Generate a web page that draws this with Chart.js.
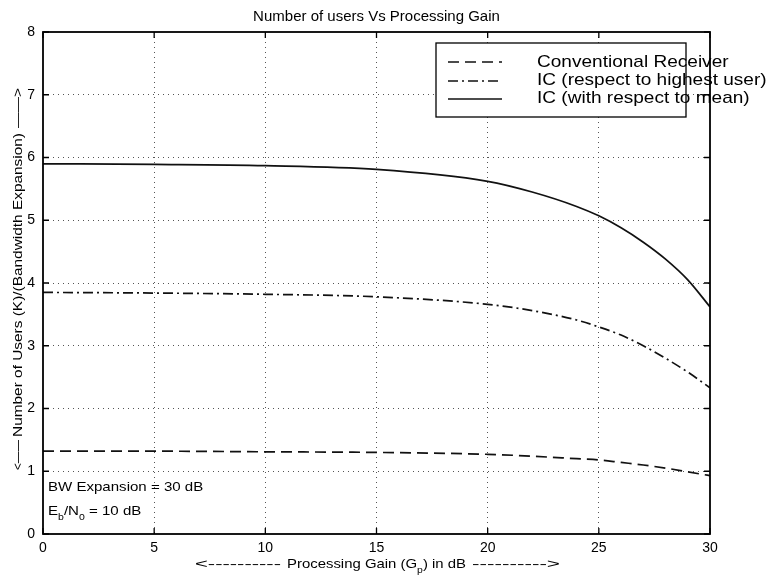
<!DOCTYPE html>
<html>
<head>
<meta charset="utf-8">
<script src="https://cdn.jsdelivr.net/npm/chart.js@4/dist/chart.umd.min.js"></script>
<style>
  html, body { margin: 0; padding: 0; background: #fff; }
  #wrap { width: 773px; height: 578px; }
</style>
</head>
<body>
<div id="wrap"><canvas id="chart"></canvas></div>
<script>
// processing gain (dB)
var gainDb = [0, 5, 10, 15, 20, 22, 24, 25, 26, 27, 28, 29, 30];

var conventional = [1.32, 1.32, 1.31, 1.30, 1.27, 1.24, 1.20, 1.18, 1.14, 1.10, 1.05, 0.99, 0.93];
var icHighest    = [3.85, 3.84, 3.82, 3.78, 3.66, 3.56, 3.41, 3.30, 3.17, 3.00, 2.80, 2.58, 2.33];
var icMean       = [5.90, 5.89, 5.87, 5.81, 5.62, 5.45, 5.22, 5.07, 4.88, 4.65, 4.38, 4.05, 3.62];

var seriesNames = ["Conventional Receiver", "IC (respect to highest user)", "IC (with respect to mean)"];
var xTicks = [0, 5, 10, 15, 20, 25, 30];
var yTicks = [0, 1, 2, 3, 4, 5, 6, 7, 8];

var FONT = "'Liberation Sans', Arial, sans-serif";

function pts(ys) {
    return gainDb.map(function (g, i) { return {x: g, y: ys[i]}; });
}

// draw text squeezed/stretched horizontally into a given width
function fitText(ctx, text, x, y, size, width) {
    ctx.font = size + "px " + FONT;
    var w = ctx.measureText(text).width;
    ctx.save();
    ctx.translate(x, y);
    ctx.scale(width / w, 1);
    ctx.fillText(text, 0, 0);
    ctx.restore();
}

// text run with subscripts: parts = [text, isSub]
function runText(ctx, parts, x, y, size, sx) {
    ctx.save();
    ctx.translate(x, y);
    ctx.scale(sx, 1);
    var cx = 0;
    parts.forEach(function (p) {
        var s = p[1] ? size * 0.7 : size;
        ctx.font = s + "px " + FONT;
        ctx.fillText(p[0], cx, p[1] ? size * 0.36 : 0);
        cx += ctx.measureText(p[0]).width;
    });
    ctx.restore();
}

function runWidth(ctx, parts, size) {
    var w = 0;
    parts.forEach(function (p) {
        ctx.font = (p[1] ? size * 0.7 : size) + "px " + FONT;
        w += ctx.measureText(p[0]).width;
    });
    return w;
}

const extras = {
    id: "extras",
    afterDraw(chart) {
        const ctx = chart.ctx;
        const a = chart.chartArea;
        const xs = chart.scales.x, ys = chart.scales.y;
        ctx.save();
        ctx.fillStyle = "#000";
        ctx.textBaseline = "alphabetic";
        ctx.textAlign = "left";

        // legend
        var lx = 436, ly = 43, lw = 250, lh = 74;
        ctx.fillStyle = "#fff";
        ctx.fillRect(lx, ly, lw, lh);
        var sampleY = [62, 81, 99];
        var textY = [67, 85, 103];
        chart.data.datasets.forEach(function (ds, i) {
            ctx.strokeStyle = ds.borderColor;
            ctx.lineWidth = ds.borderWidth;
            ctx.setLineDash(ds.borderDash || []);
            ctx.beginPath();
            ctx.moveTo(448, sampleY[i]); ctx.lineTo(502, sampleY[i]);
            ctx.stroke();
            ctx.fillStyle = "#000";
            ctx.save();
            ctx.translate(537, textY[i]);
            ctx.scale(1.12, 1);
            ctx.font = "17px " + FONT;
            ctx.fillText(ds.label, 0, 0);
            ctx.restore();
        });
        ctx.setLineDash([]);
        ctx.strokeStyle = "#000";
        ctx.lineWidth = 1.3;
        ctx.strokeRect(lx, ly, lw, lh);

        // frame
        ctx.lineWidth = 1.8;
        ctx.strokeRect(a.left, a.top, a.right - a.left, a.bottom - a.top);

        // inward tick marks
        ctx.lineWidth = 1.3;
        ctx.beginPath();
        xTicks.forEach(function (t) {
            var px = xs.getPixelForValue(t);
            ctx.moveTo(px, a.bottom); ctx.lineTo(px, a.bottom - 6);
            ctx.moveTo(px, a.top); ctx.lineTo(px, a.top + 6);
        });
        yTicks.forEach(function (t) {
            var py = ys.getPixelForValue(t);
            ctx.moveTo(a.left, py); ctx.lineTo(a.left + 6, py);
            ctx.moveTo(a.right, py); ctx.lineTo(a.right - 6, py);
        });
        ctx.stroke();

        // title
        ctx.fillStyle = "#000";
        ctx.font = "15px " + FONT;
        ctx.textAlign = "center";
        ctx.fillText("Number of users Vs Processing Gain", (a.left + a.right) / 2, 21);
        ctx.textAlign = "left";

        // annotations
        runText(ctx, [["BW Expansion = 30 dB", false]], 48, 491, 13.5, 1.115);
        runText(ctx, [["E", false], ["b", true], ["/N", false], ["0", true], [" = 10 dB", false]], 48, 515, 13.5, 1.115);

        // x-axis title
        fitText(ctx, "<----------", 195, 568, 13.5, 86);
        var xt = [["Processing Gain (G", false], ["p", true], [") in dB", false]];
        var xw = runWidth(ctx, xt, 13.5);
        runText(ctx, xt, 287, 568, 13.5, 179 / xw);
        fitText(ctx, "---------->", 472, 568, 13.5, 88);

        // y-axis title (rotated)
        ctx.save();
        ctx.translate(22, 0);
        ctx.rotate(-Math.PI / 2);
        fitText(ctx, "<——", -470, 0, 13.5, 30);
        fitText(ctx, "Number of Users (K)/(Bandwidth Expansion)", -437, 0, 13.5, 304);
        fitText(ctx, "——>", -128, 0, 13.5, 40);
        ctx.restore();

        ctx.restore();
    }
};

const config = {
    type: "line",
    data: {
        datasets: [{
            label: seriesNames[0],
            data: pts(conventional),
            borderColor: "#111",
            borderWidth: 1.7,
            borderDash: [11, 6],
            pointRadius: 0,
            cubicInterpolationMode: "monotone"
        }, {
            label: seriesNames[1],
            data: pts(icHighest),
            borderColor: "#111",
            borderWidth: 1.7,
            borderDash: [10, 4, 2, 4],
            pointRadius: 0,
            cubicInterpolationMode: "monotone"
        }, {
            label: seriesNames[2],
            data: pts(icMean),
            borderColor: "#111",
            borderWidth: 1.7,
            pointRadius: 0,
            cubicInterpolationMode: "monotone"
        }]
    },
    options: {
        responsive: true,
        maintainAspectRatio: false,
        animation: false,
        layout: { padding: { left: 0, right: 63, top: 32, bottom: 0 } },
        plugins: {
            legend: { display: false },
            tooltip: { enabled: false },
            title: { display: false }
        },
        scales: {
            x: {
                type: "linear",
                min: 0, max: 30,
                afterBuildTicks: function (s) { s.ticks = xTicks.map(function (v) { return {value: v}; }); },
                afterFit: function (s) { s.height = 44; },
                grid: {
                    color: function (c) { return (c.tick.value === 0 || c.tick.value === 30) ? "rgba(0,0,0,0)" : "#555"; },
                    lineWidth: 1,
                    drawTicks: false
                },
                border: { display: false, dash: [1, 4] },
                ticks: { color: "#000", font: { family: FONT, size: 14 }, padding: 6, maxRotation: 0 }
            },
            y: {
                type: "linear",
                min: 0, max: 8,
                afterBuildTicks: function (s) { s.ticks = yTicks.map(function (v) { return {value: v}; }); },
                afterFit: function (s) { s.width = 43; },
                grid: {
                    color: function (c) { return (c.tick.value === 0 || c.tick.value === 8) ? "rgba(0,0,0,0)" : "#555"; },
                    lineWidth: 1,
                    drawTicks: false
                },
                border: { display: false, dash: [1, 4] },
                ticks: { color: "#000", font: { family: FONT, size: 14 }, padding: 8 }
            }
        }
    },
    plugins: [extras]
};

const chart = new Chart("chart", config);
</script>
</body>
</html>
